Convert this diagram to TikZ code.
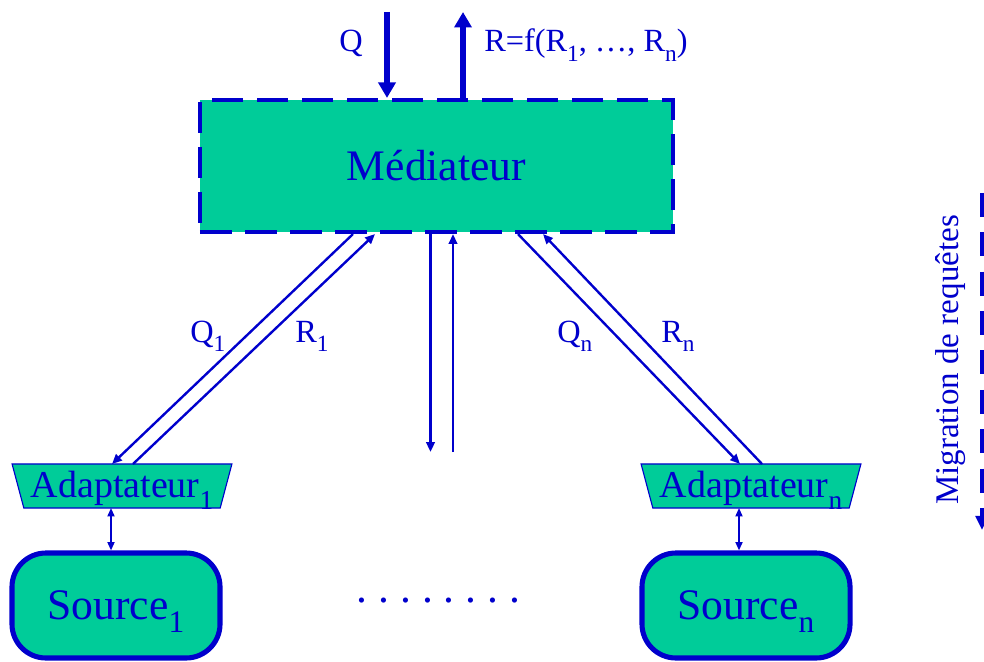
\documentclass[tikz,border=0pt]{standalone}
\usepackage{fontspec}
\setmainfont{Liberation Serif}
\usetikzlibrary{shapes.geometric,arrows.meta,calc}
\definecolor{medblue}{HTML}{0000CC}
\definecolor{medgreen}{HTML}{00CC99}
\newcommand\lowsub[1]{\raisebox{-0.3em}{\scalebox{0.72}{#1}}}
\begin{document}
\begin{tikzpicture}[x=0.025cm,y=-0.025cm]
\tikzstyle{every node}+=[inner sep=0pt,text=medblue]
\tikzstyle{thin arrow}=[medblue,line width=1.7pt,-{Triangle[length=7pt,width=6pt]}]
\tikzstyle{big arrow}=[medblue,line width=3.6pt,-{Triangle[length=11pt,width=12pt]}]
\tikzstyle{link arrow}=[medblue,line width=1.2pt,{Triangle[length=6pt,width=5pt]}-{Triangle[length=6pt,width=5pt]}]
\tikzstyle{adapter}=[trapezium,shape border rotate=180,trapezium angle=65.5,trapezium stretches=true,minimum width=5.5cm,minimum height=1.1cm,draw=medblue,fill=medgreen,line width=0.8pt,font=\fontsize{27}{27}\selectfont,text height=17pt,text depth=0pt]
\tikzstyle{sourcebox}=[draw=medblue,fill=medgreen,line width=3.6pt,rounded corners=0.85cm,minimum width=5.2cm,minimum height=2.625cm,font=\fontsize{31}{31}\selectfont,text height=20pt,text depth=0pt]
\tikzstyle{lbl}=[font=\fontsize{23}{23}\selectfont,anchor=base west]
\useasboundingbox (0,0) rectangle (984,662);
% mediator
\node[draw=medblue,fill=medgreen,line width=2.9pt,dash pattern=on 22.5pt off 9.5pt,minimum width=11.825cm,minimum height=3.3cm,font=\fontsize{31}{31}\selectfont] (med) at (436.5,166) {Médiateur};
\coordinate (qin) at (387,12);
\coordinate (rout) at (463,12);
\draw[big arrow] (qin) -- (qin |- med.north);
\draw[big arrow] (rout |- med.north) -- (rout);
\node[lbl] (qlbl) at (339,52) {Q};
\node[lbl] (rlbl) at (484,52) {R=f(R\lowsub{1}, …, R\lowsub{n})};
% adapters and sources
\node[adapter] (ad1) at (122,486) {Adaptateur\lowsub{1}};
\node[adapter] (adn) at (751,486) {Adaptateur\lowsub{n}};
\node[sourcebox] (src1) at (116,605.5) {Source\lowsub{1}};
\node[sourcebox] (srcn) at (746,605.5) {Source\lowsub{n}};
\coordinate (ad1b) at ($(ad1.center)+(-11,22)$);
\coordinate (adnb) at ($(adn.center)+(-12,22)$);
\draw[link arrow] (ad1b) -- (ad1b |- src1.north);
\draw[link arrow] (adnb) -- (adnb |- srcn.north);
% queries and results
\draw[thin arrow] ($(med.south)+(-83.5,0)$) -- ($(ad1.center)+(-10,-22)$);
\draw[thin arrow] ($(ad1.center)+(11,-22)$) -- ($(med.south)+(-61.5,0)$);
\draw[thin arrow] ($(med.south)+(81.5,0)$) -- ($(adn.center)+(-11,-22)$);
\draw[thin arrow] ($(adn.center)+(11,-22)$) -- ($(med.south)+(106.5,0)$);
\node[lbl] (q1lbl) at (190,342) {Q\lowsub{1}};
\node[lbl] (r1lbl) at (295,342) {R\lowsub{1}};
\node[lbl] (qnlbl) at (557,342) {Q\lowsub{n}};
\node[lbl] (rnlbl) at (661,342) {R\lowsub{n}};
\coordinate (midd) at (430.5,452);
\coordinate (midu) at (453,452);
\draw[thin arrow] (midd |- med.south) -- (midd);
\draw[thin arrow] (midu) -- (midu |- med.south);
\node[font=\fontsize{31}{31}\selectfont\frenchspacing,anchor=base] (dots) at (438.5,602) {. . . . . . . .};
% migration
\coordinate (migtop) at (982,193);
\coordinate (migbot) at (982,530);
\draw[medblue,line width=2.9pt,dash pattern=on 17pt off 11pt,-{Triangle[length=10pt,width=9pt]}] (migtop) -- (migbot);
\node[font=\fontsize{23.5}{23.5}\selectfont,rotate=90,anchor=base] (miglbl) at (958,360) {Migration de requêtes};
\end{tikzpicture}
\end{document}
